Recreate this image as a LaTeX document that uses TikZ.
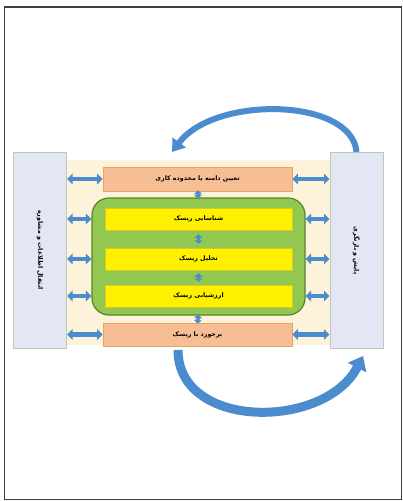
\documentclass[tikz,border=0pt]{standalone}
\usepackage{fontspec}
\newfontfamily\fa[Script=Arabic]{DejaVu Sans}
\TeXXeTstate=1
\usetikzlibrary{arrows.meta}
\definecolor{arrowblue}{RGB}{74,140,205}
\definecolor{orfill}{RGB}{247,190,150}
\definecolor{ordraw}{RGB}{228,165,100}
\definecolor{yfill}{RGB}{255,240,0}
\definecolor{ydraw}{RGB}{215,200,40}
\definecolor{gfill}{RGB}{146,200,80}
\definecolor{gdraw}{RGB}{88,130,45}
\definecolor{sidefill}{RGB}{226,230,245}
\definecolor{sidedraw}{RGB}{190,200,178}
\definecolor{beige}{RGB}{253,243,218}
\tikzset{
  txt/.style={font=\fa\bfseries\fontsize{6.3}{7.5}\selectfont},
  orbox/.style={txt, draw=ordraw, fill=orfill, line width=0.8pt, minimum width=189, minimum height=24, inner sep=0},
  ybar/.style={txt, draw=ydraw, fill=yfill, line width=0.5pt, minimum width=187, minimum height=22, inner sep=0},
  greenbox/.style={draw=gdraw, fill=gfill, line width=1.2pt, rounded corners=17pt, minimum width=213, minimum height=117, inner sep=0},
  sidebox/.style={txt, draw=sidedraw, fill=sidefill, line width=1pt, minimum width=53, minimum height=196, inner sep=0},
  dbl/.style={draw=arrowblue, line width=4.5pt, {Triangle[width=10.5pt,length=5.5pt]}-{Triangle[width=10.5pt,length=5.5pt]}},
  vdbl/.style={draw=arrowblue, line width=3.5pt, {Triangle[width=8pt,length=3.5pt]}-{Triangle[width=8pt,length=3.5pt]}},
  curved/.style={draw=arrowblue, line cap=butt}
}
\begin{document}
\begin{tikzpicture}[x=1pt,y=-1pt]
\useasboundingbox (0,0) rectangle (403,501);
\draw[line width=1.3pt, black!75] (4.5,7) rectangle (401.5,499.5);
% background
\fill[beige] (66,160) rectangle (330,345);
% side boxes
\node[sidebox] (comm) at (40,250) {\rotatebox{-90}{\beginR انتقال اطلاعات و مشاوره\endR}};
\node[sidebox] (mon) at (356.5,250.5) {\rotatebox{-90}{\beginR پایش و بازنگری\endR}};
% central process
\node[orbox] (scope) at (197.5,179) {\beginR تعیین دامنه یا محدوده کاری\endR};
\node[greenbox] (assess) at (198.5,256.5) {};
\node[ybar] (ident) at (198.5,219) {\beginR شناسایی ریسک\endR};
\node[ybar] (anal) at (198.5,259) {\beginR تحلیل ریسک\endR};
\node[ybar] (eval) at (198.5,296) {\beginR ارزشیابی ریسک\endR};
\node[orbox, minimum height=23] (treat) at (197.5,334.5) {\beginR برخورد با ریسک\endR};
% horizontal arrows left
\draw[dbl] (comm.east |- scope.west) -- (scope.west);
\draw[dbl] (comm.east |- ident.west) -- (assess.west |- ident.west);
\draw[dbl] (comm.east |- anal.west) -- (assess.west |- anal.west);
\draw[dbl] (comm.east |- eval.west) -- (assess.west |- eval.west);
\draw[dbl] (comm.east |- treat.west) -- (treat.west);
% horizontal arrows right
\draw[dbl] (scope.east) -- (mon.west |- scope.east);
\draw[dbl] (assess.east |- ident.east) -- (mon.west |- ident.east);
\draw[dbl] (assess.east |- anal.east) -- (mon.west |- anal.east);
\draw[dbl] (assess.east |- eval.east) -- (mon.west |- eval.east);
\draw[dbl] (treat.east) -- (mon.west |- treat.east);
% vertical arrows
\draw[vdbl] ([yshift=1pt]scope.south) -- ([yshift=-1pt]assess.north);
\draw[vdbl] ([yshift=-4pt]ident.south) -- ([yshift=4pt]anal.north);
\draw[vdbl] ([yshift=-3pt]anal.south) -- ([yshift=3pt]eval.north);
\draw[vdbl] ([yshift=1pt]assess.south) -- ([yshift=-1pt]treat.north);
% curved arrows
\coordinate (topend) at (172,152);
\coordinate (botstart) at (178,350);
\coordinate (botend) at (363,356);
\draw[curved, line width=6pt, -{Triangle[width=16pt,length=12pt]}]
  (mon.north) .. controls (352,98) and (215,95) .. (topend);
\draw[curved, line width=9pt, -{Triangle[width=20pt,length=13pt]}]
  (botstart) .. controls (178,430) and (325,430) .. (botend);
\end{tikzpicture}
\end{document}
